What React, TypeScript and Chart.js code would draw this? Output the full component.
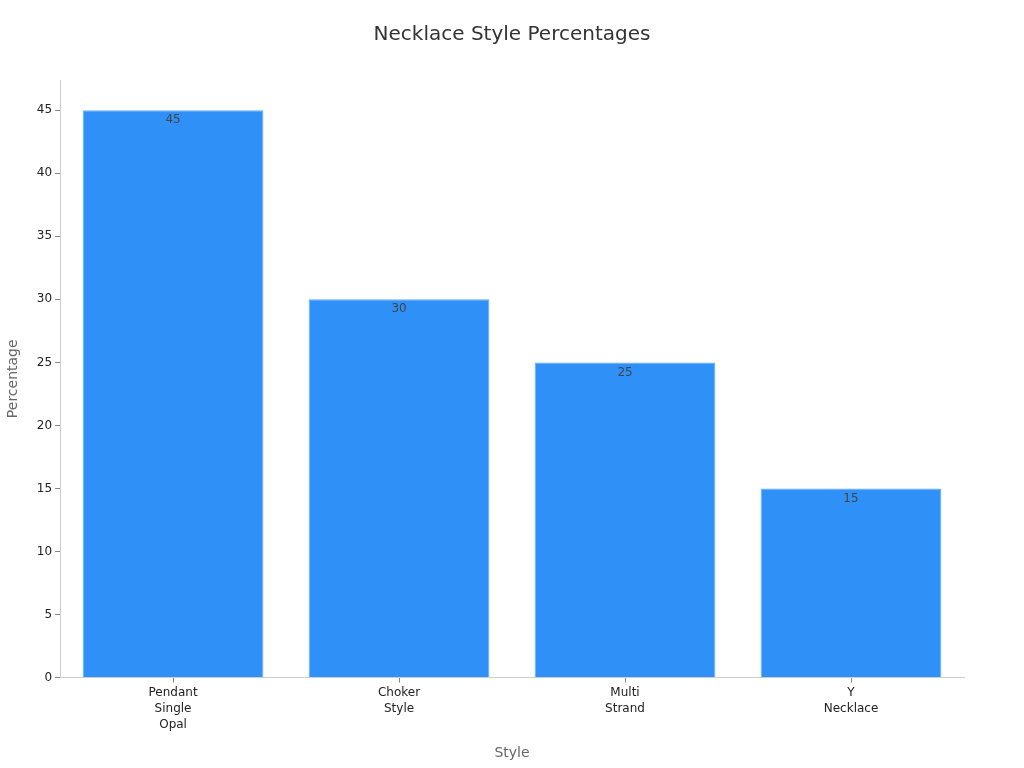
import { useEffect, useRef } from "react";
import { Chart, registerables } from "chart.js";

Chart.register(...registerables);

const title = "Necklace Style Percentages";
const categories = [["Pendant", "Single", "Opal"], ["Choker", "Style"], ["Multi", "Strand"], ["Y", "Necklace"]];
const percentages = [45, 30, 25, 15];

const FONT = "'DejaVu Sans', sans-serif";

// value inside the top of each bar + centred page title
const overlay = {
    id: "overlay",
    afterDatasetsDraw(chart: any) {
        const ctx = chart.ctx;
        const meta = chart.getDatasetMeta(0);
        ctx.save();
        ctx.font = `12px ${FONT}`;
        ctx.fillStyle = "#444";
        ctx.textAlign = "center";
        ctx.textBaseline = "top";
        meta.data.forEach((bar: any, i: number) => {
            ctx.fillText(String(percentages[i]), bar.x, bar.y + 4);
        });
        ctx.font = `20px ${FONT}`;
        ctx.fillStyle = "#333";
        ctx.textBaseline = "middle";
        ctx.fillText(title, chart.width / 2, 35);
        ctx.restore();
    },
};

export default function App() {
    const chartRef: any = useRef(null);

    useEffect(() => {
        if (!chartRef?.current) return;
        const chart = new Chart(chartRef.current.getContext("2d"), {
            type: "bar",
            data: {
                labels: categories,
                datasets: [
                    {
                        data: percentages,
                        backgroundColor: "#2f91f8",
                        borderColor: "#63aef7",
                        borderWidth: 1,
                        barPercentage: 0.8,
                        categoryPercentage: 1,
                    },
                ],
            },
            options: {
                animation: false,
                responsive: true,
                maintainAspectRatio: false,
                layout: { padding: { top: 80, right: 60, bottom: 2, left: 1 } },
                plugins: {
                    legend: { display: false },
                    tooltip: { enabled: false },
                },
                scales: {
                    x: {
                        grid: {
                            offset: false,
                            drawOnChartArea: false,
                            color: "transparent",
                            tickLength: 5,
                            tickColor: "#888",
                        },
                        border: { color: "#ccc" },
                        ticks: {
                            color: "#222",
                            font: { family: FONT, size: 12, lineHeight: 1.35 },
                            maxRotation: 0,
                            padding: 2,
                        },
                        title: {
                            display: true,
                            text: "Style",
                            color: "#666",
                            font: { family: FONT, size: 14 },
                            padding: { top: 10 },
                        },
                    },
                    y: {
                        min: 0,
                        max: 47.4,
                        grid: { drawOnChartArea: false, color: "transparent", tickLength: 5, tickColor: "#888" },
                        border: { color: "#ccc" },
                        ticks: {
                            stepSize: 5,
                            includeBounds: false,
                            color: "#222",
                            font: { family: FONT, size: 12 },
                            padding: 3,
                        },
                        title: {
                            display: true,
                            text: "Percentage",
                            color: "#666",
                            font: { family: FONT, size: 14 },
                            padding: { bottom: 12 },
                        },
                    },
                },
            } as any,
            plugins: [overlay],
        });
        return () => {
            chart.destroy();
        };
    }, []);

    return (
        <div style={{ position: "absolute", left: 0, top: 0, width: 1024, height: 768 }}>
            <canvas ref={chartRef} />
        </div>
    );
}
